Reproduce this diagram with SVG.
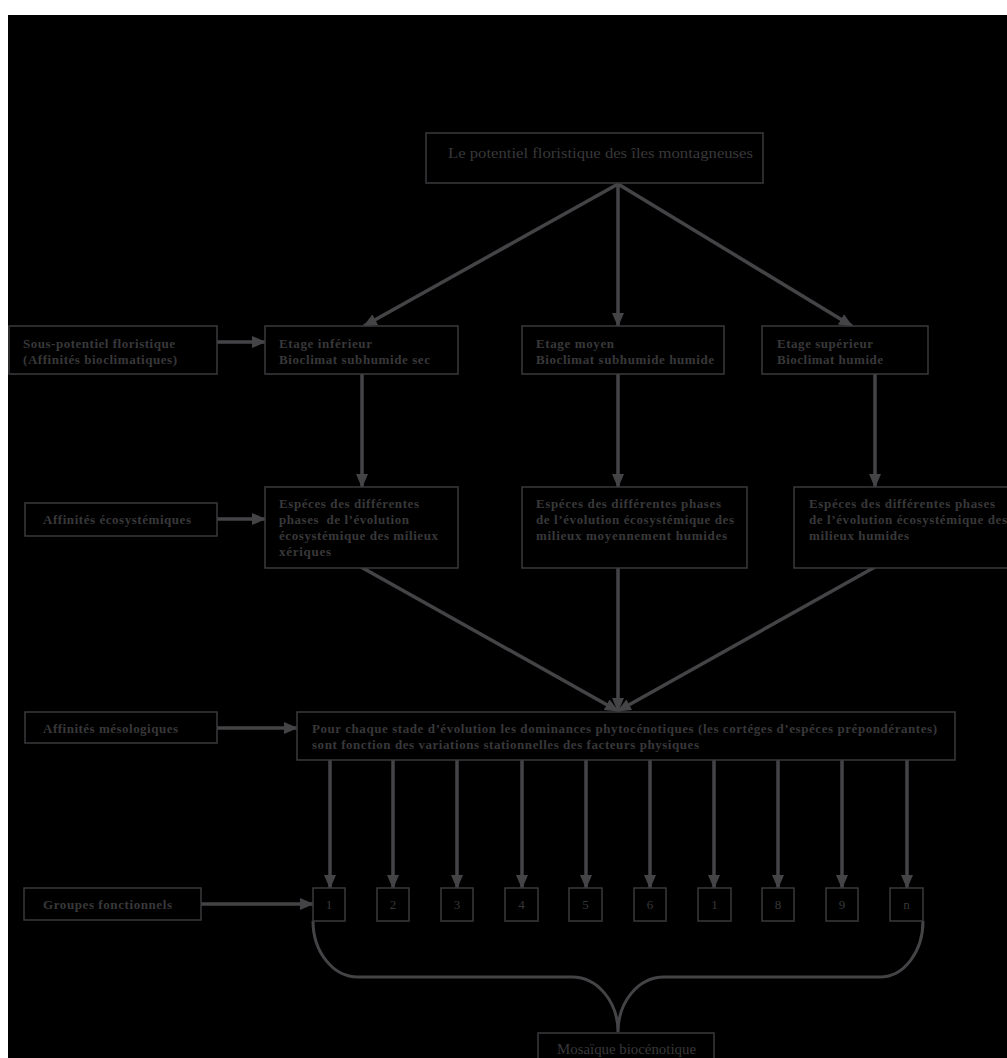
<svg xmlns="http://www.w3.org/2000/svg" width="1007" height="1058" viewBox="0 0 1007 1058">
<style>
.box{fill:#000;stroke:#3a3a3c;stroke-width:1.5}
.t{font-family:"Liberation Serif","Times New Roman",serif;font-weight:bold;font-size:13px;fill:#38383a}
.r{font-family:"Liberation Serif","Times New Roman",serif;font-size:15px;fill:#38383a}
.n{font-family:"Liberation Serif","Times New Roman",serif;font-size:13px;fill:#38383a;text-anchor:middle}
.c{fill:none;stroke:#444447;stroke-width:3.5}
.b{fill:none;stroke:#444447;stroke-width:3}
</style>
<defs>
<marker id="ah" markerUnits="userSpaceOnUse" markerWidth="14" markerHeight="12" refX="13" refY="6" orient="auto">
<path d="M0,0 L14,6 L0,12 z" fill="#444447"/>
</marker>
</defs>
<rect x="0" y="0" width="1007" height="1058" fill="#fff"/>
<rect x="8" y="15" width="999" height="1043" fill="#000"/>

<g id="connectors">
<line class="c" x1="618" y1="184" x2="364" y2="326" marker-end="url(#ah)"/>
<line class="c" x1="618" y1="184" x2="618" y2="326" marker-end="url(#ah)"/>
<line class="c" x1="618" y1="184" x2="852" y2="326" marker-end="url(#ah)"/>
<line class="c" x1="217" y1="342" x2="265" y2="342" marker-end="url(#ah)"/>
<line class="c" x1="362" y1="374" x2="362" y2="487" marker-end="url(#ah)"/>
<line class="c" x1="618" y1="374" x2="618" y2="487" marker-end="url(#ah)"/>
<line class="c" x1="875" y1="374" x2="875" y2="487" marker-end="url(#ah)"/>
<line class="c" x1="217" y1="519" x2="265" y2="519" marker-end="url(#ah)"/>
<line class="c" x1="361" y1="567" x2="618" y2="711" marker-end="url(#ah)"/>
<line class="c" x1="618" y1="568" x2="618" y2="711" marker-end="url(#ah)"/>
<line class="c" x1="875" y1="567" x2="618" y2="711" marker-end="url(#ah)"/>
<line class="c" x1="217" y1="728" x2="297" y2="728" marker-end="url(#ah)"/>
<line class="c" x1="330" y1="760" x2="330" y2="888" marker-end="url(#ah)"/>
<line class="c" x1="393" y1="760" x2="393" y2="888" marker-end="url(#ah)"/>
<line class="c" x1="457" y1="760" x2="457" y2="888" marker-end="url(#ah)"/>
<line class="c" x1="522" y1="760" x2="522" y2="888" marker-end="url(#ah)"/>
<line class="c" x1="586" y1="760" x2="586" y2="888" marker-end="url(#ah)"/>
<line class="c" x1="650" y1="760" x2="650" y2="888" marker-end="url(#ah)"/>
<line class="c" x1="714" y1="760" x2="714" y2="888" marker-end="url(#ah)"/>
<line class="c" x1="778" y1="760" x2="778" y2="888" marker-end="url(#ah)"/>
<line class="c" x1="842" y1="760" x2="842" y2="888" marker-end="url(#ah)"/>
<line class="c" x1="907" y1="760" x2="907" y2="888" marker-end="url(#ah)"/>
<line class="c" x1="201" y1="904" x2="313" y2="904" marker-end="url(#ah)"/>
<path class="b" d="M313,921 A45,56 0 0 0 358,977 L572,977 A46,55 0 0 1 618,1032 A46,55 0 0 1 664,977 L880,977 A43,56 0 0 0 923,921"/>
</g>

<g id="n-top">
<rect class="box" x="426" y="133" width="337" height="50"/>
<text class="r" x="448" y="158" textLength="305" lengthAdjust="spacingAndGlyphs">Le potentiel floristique des îles montagneuses</text>
</g>

<g id="n-souspotentiel">
<rect class="box" x="9" y="326" width="208" height="48"/>
<text class="t" x="23" y="347.5" textLength="152" lengthAdjust="spacing">Sous-potentiel floristique</text>
<text class="t" x="23" y="363.5" textLength="154" lengthAdjust="spacing">(Affinités bioclimatiques)</text>
</g>

<g id="n-etage-inf">
<rect class="box" x="265" y="326" width="193" height="48"/>
<text class="t" x="279" y="347.5" textLength="93" lengthAdjust="spacing">Etage inférieur</text>
<text class="t" x="279" y="363.5" textLength="151" lengthAdjust="spacing">Bioclimat subhumide sec</text>
</g>

<g id="n-etage-moy">
<rect class="box" x="522" y="326" width="202" height="48"/>
<text class="t" x="536" y="347.5" textLength="78" lengthAdjust="spacing">Etage moyen</text>
<text class="t" x="536" y="363.5" textLength="178" lengthAdjust="spacing">Bioclimat subhumide humide</text>
</g>

<g id="n-etage-sup">
<rect class="box" x="762" y="326" width="166" height="48"/>
<text class="t" x="777" y="347.5" textLength="96" lengthAdjust="spacing">Etage supérieur</text>
<text class="t" x="777" y="363.5" textLength="106" lengthAdjust="spacing">Bioclimat humide</text>
</g>

<g id="n-affinites-eco">
<rect class="box" x="25" y="503" width="192" height="33"/>
<text class="t" x="43" y="523.5" textLength="148" lengthAdjust="spacing">Affinités écosystémiques</text>
</g>

<g id="n-especes-1">
<rect class="box" x="265" y="487" width="193" height="81"/>
<text class="t" x="279" y="507.5" textLength="140" lengthAdjust="spacing">Espéces des différentes</text>
<text class="t" x="279" y="523.5" textLength="130" lengthAdjust="spacing">phases&#160; de l’évolution</text>
<text class="t" x="279" y="539.5" textLength="159" lengthAdjust="spacing">écosystémique des milieux</text>
<text class="t" x="279" y="555.5" textLength="52" lengthAdjust="spacing">xériques</text>
</g>

<g id="n-especes-2">
<rect class="box" x="522" y="487" width="225" height="81"/>
<text class="t" x="536" y="507.5" textLength="185" lengthAdjust="spacing">Espéces des différentes phases</text>
<text class="t" x="536" y="523.5" textLength="198" lengthAdjust="spacing">de l’évolution écosystémique des</text>
<text class="t" x="536" y="539.5" textLength="191" lengthAdjust="spacing">milieux moyennement humides</text>
</g>

<g id="n-especes-3">
<rect class="box" x="794" y="487" width="220" height="81"/>
<text class="t" x="809" y="507.5" textLength="186" lengthAdjust="spacing">Espéces des différentes phases</text>
<text class="t" x="809" y="523.5" textLength="198" lengthAdjust="spacing">de l’évolution écosystémique des</text>
<text class="t" x="809" y="539.5" textLength="100" lengthAdjust="spacing">milieux humides</text>
</g>

<g id="n-affinites-meso">
<rect class="box" x="25" y="712" width="192" height="31"/>
<text class="t" x="43" y="732.5" textLength="135" lengthAdjust="spacing">Affinités mésologiques</text>
</g>

<g id="n-pourchaque">
<rect class="box" x="297" y="712" width="658" height="48"/>
<text class="t" x="312" y="732.5" textLength="625" lengthAdjust="spacing">Pour chaque stade d’évolution les dominances phytocénotiques (les cortéges d’espéces prépondérantes)</text>
<text class="t" x="312" y="748.5" textLength="387" lengthAdjust="spacing">sont fonction des variations stationnelles des facteurs physiques</text>
</g>

<g id="n-groupes">
<rect class="box" x="24" y="888" width="177" height="32"/>
<text class="t" x="43" y="908.5" textLength="129" lengthAdjust="spacing">Groupes fonctionnels</text>
</g>

<g id="n-g1"><rect class="box" x="313" y="888" width="32" height="33"/><text class="n" x="329" y="909">1</text></g>
<g id="n-g2"><rect class="box" x="377" y="888" width="32" height="33"/><text class="n" x="393" y="909">2</text></g>
<g id="n-g3"><rect class="box" x="441" y="888" width="32" height="33"/><text class="n" x="457" y="909">3</text></g>
<g id="n-g4"><rect class="box" x="505" y="888" width="33" height="33"/><text class="n" x="521.5" y="909">4</text></g>
<g id="n-g5"><rect class="box" x="569" y="888" width="33" height="33"/><text class="n" x="585.5" y="909">5</text></g>
<g id="n-g6"><rect class="box" x="634" y="888" width="32" height="33"/><text class="n" x="650" y="909">6</text></g>
<g id="n-g7"><rect class="box" x="698" y="888" width="33" height="33"/><text class="n" x="714.5" y="909">1</text></g>
<g id="n-g8"><rect class="box" x="762" y="888" width="32" height="33"/><text class="n" x="778" y="909">8</text></g>
<g id="n-g9"><rect class="box" x="826" y="888" width="32" height="33"/><text class="n" x="842" y="909">9</text></g>
<g id="n-gn"><rect class="box" x="890" y="888" width="33" height="33"/><text class="n" x="906.5" y="909">n</text></g>

<g id="n-mosaique">
<rect class="box" x="538" y="1033" width="176" height="30"/>
<text class="r" x="557" y="1054" textLength="139" lengthAdjust="spacingAndGlyphs">Mosaïque biocénotique</text>
</g>
</svg>
